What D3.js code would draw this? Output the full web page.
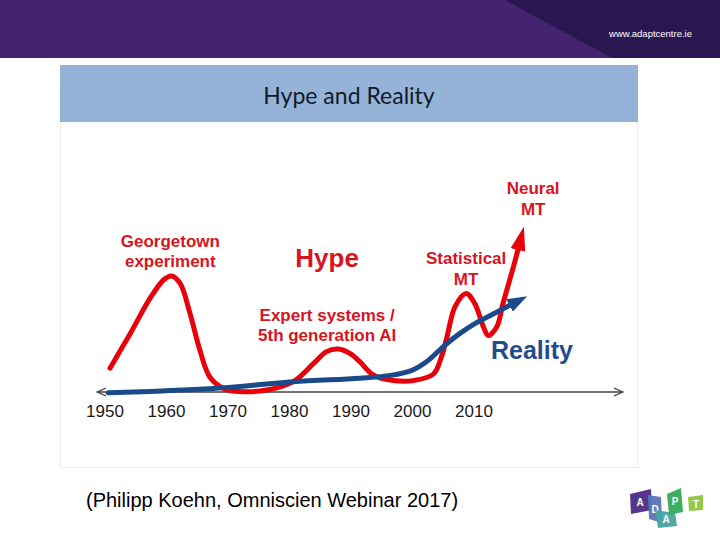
<!DOCTYPE html>
<html>
<head>
<meta charset="utf-8">
<script src="https://cdn.jsdelivr.net/npm/d3@7"></script>
<style>
  body { margin: 0; background: #fff; }
  svg { display: block; }
</style>
</head>
<body>
<svg id="chart"></svg>
<script>
// tick labels on the time axis
const tickYears = [1950, 1960, 1970, 1980, 1990, 2000, 2010];

// hype curve (red): year / relative hype
const hypeYears  = [1950.9, 1954.2, 1957.4, 1959.6, 1960.9, 1962.3, 1963.9, 1965.5, 1967.1, 1969.3,
                    1972.0, 1976.4, 1980.7, 1984.0, 1986.1, 1988.0, 1989.9, 1991.5, 1993.7, 1997.0,
                    2000.2, 2003.5, 2004.8, 2005.7, 2007.0, 2008.8, 2010.2, 2011.6, 2012.4, 2013.8,
                    2014.8, 2016.5, 2017.3];
const hypeValues = [11.9, 29.3, 46.8, 56.0, 58.0, 54.3, 39.3, 21.0, 7.6, 1.8,
                    0.2, 1.0, 5.2, 14.3, 20.2, 21.5, 19.3, 15.2, 8.5, 5.7,
                    5.7, 9.0, 17.7, 27.7, 42.7, 49.3, 44.3, 32.7, 28.2, 32.7,
                    44.3, 62.7, 72.0];

// reality curve (blue)
const realityYears  = [1950.6, 1967.7, 1980.7, 1991.5, 1996.5, 2000.0, 2002.4, 2005.1, 2007.8, 2010.5, 2013.2, 2016.0];
const realityValues = [-0.4, 1.8, 5.1, 6.9, 8.3, 10.8, 15.2, 22.7, 29.3, 34.7, 39.0, 43.5];

// annotations, anchored in year / hype units
const hypeNotes = [
  { lines: ['Georgetown', 'experiment'], year: 1960.7, value: 72.6 },
  { lines: ['Expert systems /', '5th generation AI'], year: 1986.2, value: 35.6 },
  { lines: ['Statistical', 'MT'], year: 2008.8, value: 63.8 },
  { lines: ['Neural', 'MT'], year: 2019.7, value: 98.8 }
];

const width = 720, height = 540;
const svg = d3.select('#chart').attr('width', width).attr('height', height);

// slide header
svg.append('rect').attr('x', 0).attr('y', 0).attr('width', width).attr('height', 58).attr('fill', '#44246f');
svg.append('polygon').attr('points', '505,0 720,0 720,58 612,58').attr('fill', '#2a1650');
svg.append('text')
   .attr('x', 692).attr('y', 37)
   .attr('text-anchor', 'end')
   .attr('fill', '#fff')
   .style('font-family', 'Liberation Sans, Arial, sans-serif')
   .style('font-size', '9.5px')
   .text('www.adaptcentre.ie');

// picture frame + title band
svg.append('rect').attr('x', 60.5).attr('y', 65.5).attr('width', 577).attr('height', 402)
   .attr('fill', '#fff').attr('stroke', '#ececec');
svg.append('rect').attr('x', 60).attr('y', 65).attr('width', 578).attr('height', 57).attr('fill', '#95b3d7');
svg.append('text')
   .attr('x', 349).attr('y', 104)
   .attr('text-anchor', 'middle')
   .attr('fill', '#111a2b')
   .style('font-family', 'Lato, sans-serif')
   .style('font-size', '23px')
   .text('Hype and Reality');

// scales
const x = d3.scaleLinear().domain([1950, 2010]).range([104.5, 473.5]);
const y = d3.scaleLinear().domain([0, 100]).range([392, 192]);

// markers
const defs = svg.append('defs');
function arrow(id, color, len, half, ref) {
  defs.append('marker')
      .attr('id', id)
      .attr('markerUnits', 'userSpaceOnUse')
      .attr('viewBox', `0 ${-half} ${len} ${half * 2}`)
      .attr('markerWidth', len).attr('markerHeight', half * 2)
      .attr('refX', ref).attr('refY', 0)
      .attr('orient', 'auto')
    .append('path')
      .attr('d', `M0,${-half}L${len},0L0,${half}Z`)
      .attr('fill', color);
}
arrow('red-head', '#e8000b', 24, 7.5, 2);
arrow('blue-head', '#1b4a8a', 20, 7, 1);
defs.append('marker')
    .attr('id', 'axis-head').attr('markerUnits', 'userSpaceOnUse')
    .attr('viewBox', '0 -5 10 10').attr('markerWidth', 10).attr('markerHeight', 10)
    .attr('refX', 9).attr('refY', 0).attr('orient', 'auto-start-reverse')
  .append('path').attr('d', 'M0,-4L9,0L0,4').attr('fill', 'none').attr('stroke', '#444').attr('stroke-width', 1.3);

// time axis
const axis = svg.append('g')
   .attr('transform', `translate(0,${y(0)})`)
   .call(d3.axisBottom(x).tickValues(tickYears).tickFormat(d3.format('d')).tickSize(0).tickPadding(13));
axis.select('.domain').remove();
axis.selectAll('text')
    .attr('fill', '#1a1a1a')
    .style('font-family', 'Liberation Sans, Arial, sans-serif')
    .style('font-size', '17px');
svg.append('line')
   .attr('x1', x(1948.8)).attr('x2', x(2034.3))
   .attr('y1', y(0)).attr('y2', y(0))
   .attr('stroke', '#444').attr('stroke-width', 1.3)
   .attr('marker-start', 'url(#axis-head)')
   .attr('marker-end', 'url(#axis-head)');

const line = d3.line().x(d => x(d[0])).y(d => y(d[1])).curve(d3.curveCatmullRom.alpha(0.5));

// hype
svg.append('path')
   .datum(d3.zip(hypeYears, hypeValues))
   .attr('d', line)
   .attr('fill', 'none')
   .attr('stroke', '#e8000b')
   .attr('stroke-width', 5)
   .attr('stroke-linecap', 'round')
   .attr('marker-end', 'url(#red-head)');

// reality
svg.append('path')
   .datum(d3.zip(realityYears, realityValues))
   .attr('d', line)
   .attr('fill', 'none')
   .attr('stroke', '#1b4a8a')
   .attr('stroke-width', 5)
   .attr('stroke-linecap', 'round')
   .attr('marker-end', 'url(#blue-head)');

// annotations
const noteFont = 'Liberation Sans, Arial, Helvetica, sans-serif';
hypeNotes.forEach(n => {
  const t = svg.append('text')
     .attr('x', x(n.year)).attr('y', y(n.value))
     .attr('text-anchor', 'middle')
     .attr('fill', '#d7141f')
     .style('font-family', noteFont)
     .style('font-weight', 'bold')
     .style('font-size', '17px');
  n.lines.forEach((l, i) => {
    t.append('tspan').attr('x', x(n.year)).attr('dy', i ? 20.5 : 0).text(l);
  });
});

svg.append('text')
   .attr('x', x(1986.2)).attr('y', y(62.3))
   .attr('text-anchor', 'middle')
   .attr('fill', '#d7141f')
   .style('font-family', noteFont).style('font-weight', 'bold').style('font-size', '26px')
   .text('Hype');

svg.append('text')
   .attr('x', x(2019.5)).attr('y', y(16.3))
   .attr('text-anchor', 'middle')
   .attr('fill', '#1f4e8c')
   .style('font-family', noteFont).style('font-weight', 'bold').style('font-size', '25px')
   .text('Reality');

// caption
svg.append('text')
   .attr('x', 86).attr('y', 507)
   .attr('fill', '#000')
   .style('font-family', 'Liberation Sans, Arial, sans-serif')
   .style('font-size', '20px')
   .text('(Philipp Koehn, Omniscien Webinar 2017)');

// ADAPT logo
const logo = svg.append('g');
const tiles = [
  { pts: '630,494 651,489 652,510 631,514', fill: '#4b2c84', letter: 'A', lx: 640, ly: 506 },
  { pts: '648,495 661,497 662,523 649,519', fill: '#5b74b8', letter: 'D', lx: 655, ly: 513 },
  { pts: '655,510 675,513 677,526 658,528', fill: '#47a3a4', letter: 'A', lx: 666, ly: 523 },
  { pts: '667,494 681,488 683,512 669,515', fill: '#36a95a', letter: 'P', lx: 675, ly: 505 },
  { pts: '688,497 703,495 703,510 689,511', fill: '#8cc63f', letter: 'T', lx: 696, ly: 508 }
];
tiles.forEach(t => {
  logo.append('polygon').attr('points', t.pts).attr('fill', t.fill).attr('opacity', 0.95);
  logo.append('text').attr('x', t.lx).attr('y', t.ly).attr('text-anchor', 'middle')
      .attr('fill', '#fff').style('font-family', 'Liberation Sans, Arial, sans-serif')
      .style('font-size', '10px').style('font-weight', 'bold').text(t.letter);
});
</script>
</body>
</html>
